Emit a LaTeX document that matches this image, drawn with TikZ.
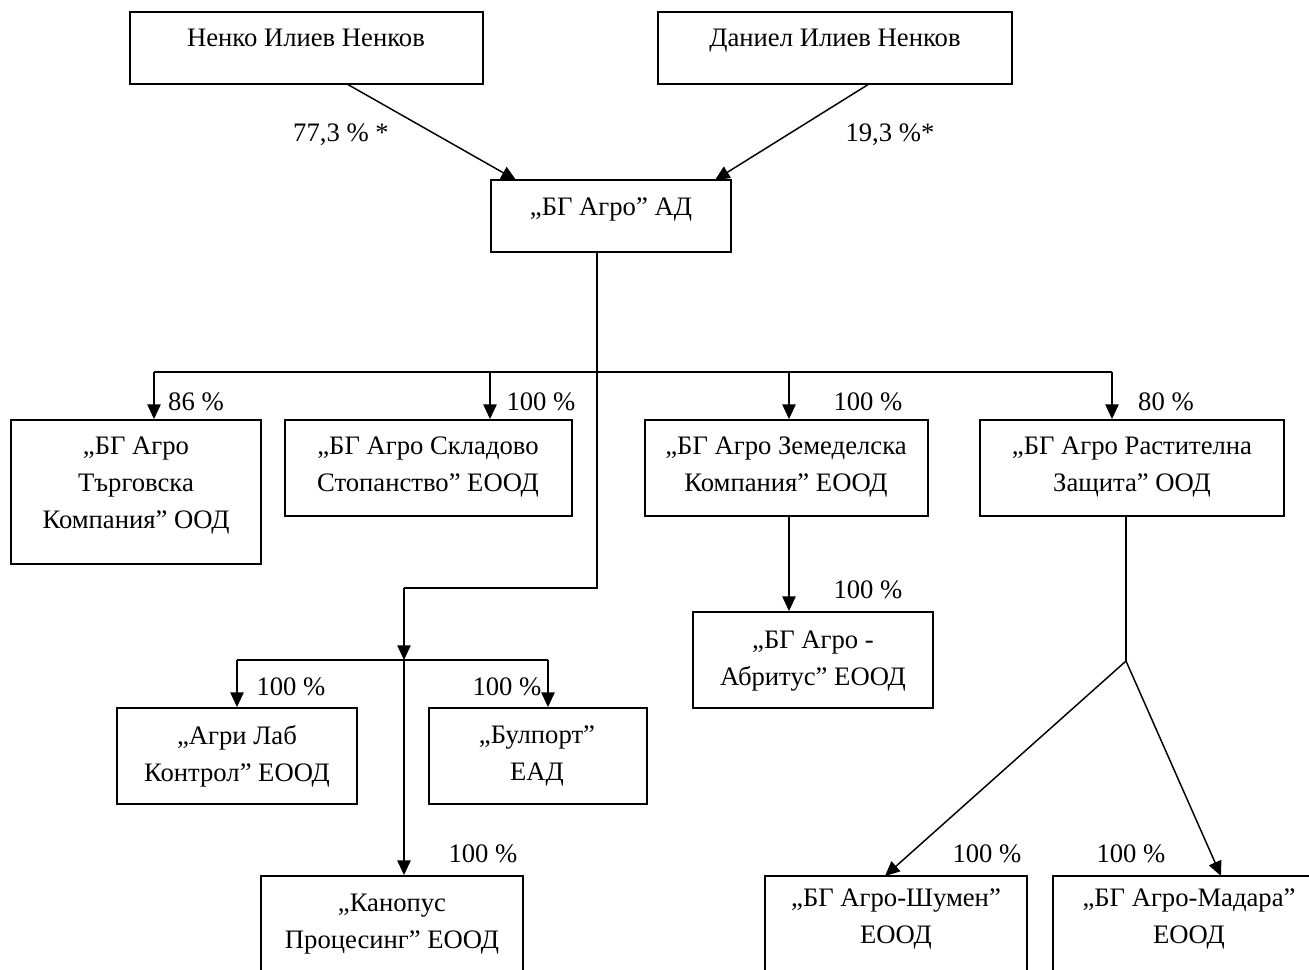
\documentclass[tikz,border=0pt]{standalone}
\usepackage{fontspec}
\setmainfont{Liberation Serif}
\usetikzlibrary{arrows.meta,fit,calc}
\tikzset{
  box/.style={draw, line width=1.4pt, inner sep=0pt, fit=#1},
  txt/.style={anchor=north, inner sep=0pt, align=center, font=\fontsize{20}{27.75}\selectfont},
  lbl/.style={anchor=base, inner sep=0pt, font=\fontsize{20}{27.75}\selectfont},
  conn/.style={line width=1.1pt},
  arr/.style={line width=1.1pt, -{Triangle[length=11pt,width=10pt]}},
}
\begin{document}
\begin{tikzpicture}[x=0.75pt,y=-0.75pt]
\useasboundingbox (0,0) rectangle (1309,970);
\clip (0,0) rectangle (1309,970);
% box corners
\coordinate (p1a) at (130,12);  \coordinate (p1b) at (483,84);
\coordinate (p2a) at (658,12);  \coordinate (p2b) at (1012,84);
\coordinate (bga) at (491,180); \coordinate (bgb) at (731,252);
\coordinate (t1a) at (11,420);  \coordinate (t1b) at (261,564);
\coordinate (t2a) at (285,420); \coordinate (t2b) at (572,516);
\coordinate (t3a) at (645,420); \coordinate (t3b) at (928,516);
\coordinate (t4a) at (980,420); \coordinate (t4b) at (1284,516);
\coordinate (aba) at (693,612); \coordinate (abb) at (933,708);
\coordinate (ala) at (117,708); \coordinate (alb) at (357,804);
\coordinate (bpa) at (429,708); \coordinate (bpb) at (647,804);
\coordinate (cna) at (261,876); \coordinate (cnb) at (523,990);
\coordinate (sha) at (765,876); \coordinate (shb) at (1027,990);
\coordinate (mda) at (1053,876); \coordinate (mdb) at (1330,990);
% boxes
\node[box=(p1a)(p1b)] (p1) {};
\node[box=(p2a)(p2b)] (p2) {};
\node[box=(bga)(bgb)] (bg) {};
\node[box=(t1a)(t1b)] (t1) {};
\node[box=(t2a)(t2b)] (t2) {};
\node[box=(t3a)(t3b)] (t3) {};
\node[box=(t4a)(t4b)] (t4) {};
\node[box=(aba)(abb)] (ab) {};
\node[box=(ala)(alb)] (al) {};
\node[box=(bpa)(bpb)] (bp) {};
\node[box=(cna)(cnb)] (cn) {};
\node[box=(sha)(shb)] (sh) {};
\node[box=(mda)(mdb)] (md) {};
% texts
\node[txt] (p1t) at (306,29) {Ненко Илиев Ненков};
\node[txt] (p2t) at (835,29) {Даниел Илиев Ненков};
\node[txt] (bgt) at (611,197) {„БГ Агро” АД};
\node[txt] (t1t) at (136,437) {„БГ Агро\\Търговска\\Компания” ООД};
\node[txt] (t2t) at (428,437) {„БГ Агро Складово\\Стопанство” ЕООД};
\node[txt] (t3t) at (786,437) {„БГ Агро Земеделска\\Компания” ЕООД};
\node[txt] (t4t) at (1132,437) {„БГ Агро Растителна\\Защита” ООД};
\node[txt] (abt) at (813,631) {„БГ Агро -\\Абритус” ЕООД};
\node[txt] (alt) at (237,725) {„Агри Лаб\\Контрол” ЕООД};
\node[txt] (bpt) at (537,725) {„Булпорт”\\ЕАД};
\node[txt] (cnt) at (392,894) {„Канопус\\Процесинг” ЕООД};
\node[txt] (sht) at (896,888) {„БГ Агро-Шумен”\\ЕООД};
\node[txt] (mdt) at (1189,888) {„БГ Агро-Мадара”\\ЕООД};
% top arrows
\coordinate (s1) at (347,84);  \coordinate (e1) at (516,180);
\coordinate (s2) at (869,84);  \coordinate (e2) at (715,180);
\draw[arr] (s1) -- (e1);
\draw[arr] (s2) -- (e2);
\node[lbl] (l1) at (341,142) {77,3 \% *};
\node[lbl] (l2) at (890,142) {19,3 \%*};
% trunk and bus
\coordinate (k0) at (597,252);
\coordinate (k2) at (597,588);
\coordinate (k3) at (404,588);
\coordinate (k4) at (404,660);
\coordinate (b1) at (154,372);
\coordinate (b2) at (490,372);
\coordinate (b3) at (789,372);
\coordinate (b4) at (1112,372);
\draw[conn] (k0) -- (k2) -- (k3);
\draw[conn] (b1) -- (b4);
\draw[arr] (b1) -- (b1 |- t1.north);
\draw[arr] (b2) -- (b2 |- t2.north);
\draw[arr] (b3) -- (b3 |- t3.north);
\draw[arr] (b4) -- (b4 |- t4.north);
\node[lbl] (l3) at (196,410) {86 \%};
\node[lbl] (l4) at (541,410) {100 \%};
\node[lbl] (l5) at (868,410) {100 \%};
\node[lbl] (l6) at (1166,410) {80 \%};
% lower branch
\draw[arr] (k3) -- (k4);
\coordinate (c1) at (237,660);
\coordinate (c2) at (548,660);
\draw[conn] (c1) -- (c2);
\draw[arr] (c1) -- (c1 |- al.north);
\draw[arr] (c2) -- (c2 |- bp.north);
\draw[arr] (k4) -- (k4 |- cn.north);
\node[lbl] (l7) at (291,695) {100 \%};
\node[lbl] (l8) at (507,695) {100 \%};
\node[lbl] (l9) at (483,862) {100 \%};
% zemedelska -> abritus
\coordinate (z1) at (789,516);
\draw[arr] (z1) -- (z1 |- ab.north);
\node[lbl] (l10) at (868,598) {100 \%};
% rastitelna split
\coordinate (r0) at (1126,516);
\coordinate (r1) at (1126,661);
\coordinate (r2) at (885,876);
\coordinate (r3) at (1221,876);
\draw[conn] (r0) -- (r1);
\draw[arr] (r1) -- (r2);
\draw[arr] (r1) -- (r3);
\node[lbl] (l11) at (987,862) {100 \%};
\node[lbl] (l12) at (1131,862) {100 \%};
\end{tikzpicture}
\end{document}
